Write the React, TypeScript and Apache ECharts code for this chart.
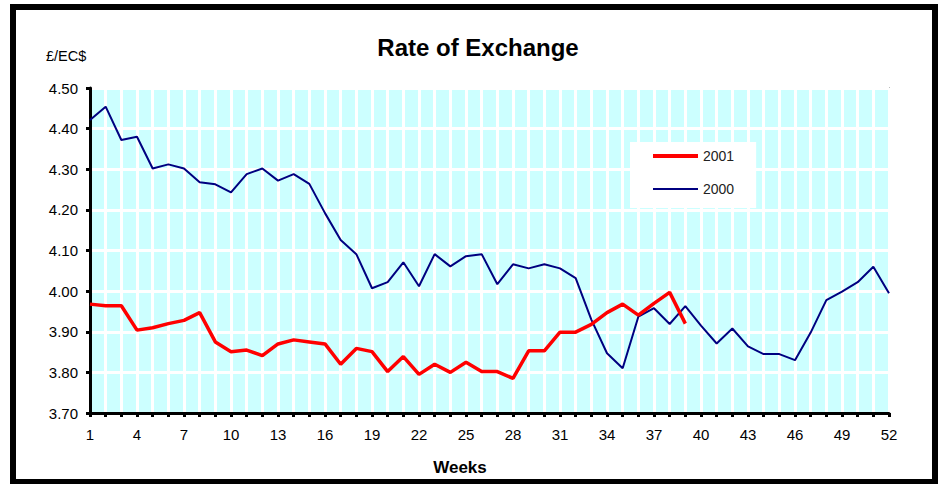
import React, { useEffect, useRef } from "react";
import * as echarts from "echarts";

const weeks: string[] = [
  "1", "2", "3", "4", "5", "6", "7", "8", "9", "10",
  "11", "12", "13", "14", "15", "16", "17", "18", "19", "20",
  "21", "22", "23", "24", "25", "26", "27", "28", "29", "30",
  "31", "32", "33", "34", "35", "36", "37", "38", "39", "40",
  "41", "42", "43", "44", "45", "46", "47", "48", "49", "50",
  "51", "52",
];

const rate2001: number[] = [
  3.968, 3.964, 3.964, 3.904, 3.910, 3.920, 3.928, 3.947, 3.875, 3.851,
  3.855, 3.841, 3.870, 3.880, 3.875, 3.870, 3.820, 3.859, 3.851, 3.802,
  3.839, 3.795, 3.820, 3.800, 3.825, 3.802, 3.802, 3.785, 3.853, 3.853,
  3.899, 3.899, 3.918, 3.947, 3.968, 3.941, 3.970, 3.997, 3.920,
];

const rate2000: number[] = [
  4.421, 4.454, 4.372, 4.380, 4.302, 4.312, 4.302, 4.268, 4.263, 4.243,
  4.288, 4.302, 4.272, 4.288, 4.264, 4.192, 4.126, 4.091, 4.007, 4.022,
  4.071, 4.012, 4.091, 4.061, 4.086, 4.091, 4.017, 4.066, 4.056, 4.066,
  4.056, 4.032, 3.930, 3.847, 3.810, 3.937, 3.958, 3.919, 3.963, 3.915,
  3.871, 3.908, 3.864, 3.845, 3.845, 3.830, 3.898, 3.978, 3.999, 4.022,
  4.060, 3.995,
];

const seriesNames: string[] = ["2001", "2000"];
const chartTitle = "Rate of Exchange";
const yUnit = "£/EC$";
const xName = "Weeks";

const FONT = "'Liberation Sans', Arial, Helvetica, sans-serif";

export default function App() {
  const ref = useRef<HTMLDivElement>(null);

  useEffect(() => {
    if (!ref.current) return;
    const chart = echarts.init(ref.current, undefined, { renderer: "svg" });
    chart.setOption({
      animation: false,
      backgroundColor: "#ffffff",
      textStyle: { fontFamily: FONT },
      title: {
        text: chartTitle,
        left: 478,
        top: 35,
        textAlign: "center",
        padding: 0,
        textStyle: { fontFamily: FONT, fontSize: 24, fontWeight: "bold", color: "#000" },
      },
      legend: {
        data: [
          { name: seriesNames[0], lineStyle: { width: 4, color: "#FF0000" } },
          { name: seriesNames[1], lineStyle: { width: 2, color: "#000080" } },
        ],
        orient: "vertical",
        left: 630,
        top: 142,
        backgroundColor: "#ffffff",
        padding: [7, 22, 12, 21],
        itemWidth: 45,
        itemHeight: 14,
        itemGap: 19,
        itemStyle: { opacity: 0 },
        textStyle: { fontFamily: FONT, fontSize: 14, color: "#222" },
      },
      grid: {
        left: 90,
        right: 52,
        top: 88,
        bottom: 71,
        show: true,
        backgroundColor: "#CCFFFF",
        borderColor: "#222",
        borderWidth: 1.2,
      },
      xAxis: {
        type: "category",
        data: weeks,
        boundaryGap: false,
        name: xName,
        nameLocation: "middle",
        nameGap: 46,
        nameTextStyle: {
          fontFamily: FONT,
          fontSize: 17,
          fontWeight: "bold",
          color: "#000",
          padding: [0, 59, 0, 0],
        },
        axisLine: { show: true, lineStyle: { color: "#000", width: 3 } },
        axisTick: { show: true, interval: 0, length: 4, lineStyle: { color: "#000", width: 3 } },
        axisLabel: { interval: 2, margin: 14, fontFamily: FONT, fontSize: 15, color: "#000" },
        splitLine: { show: true, interval: 0, lineStyle: { color: "#ffffff", width: 3 } },
      },
      yAxis: {
        type: "value",
        min: 3.7,
        max: 4.5,
        interval: 0.1,
        axisLine: { show: true, lineStyle: { color: "#000", width: 3 } },
        axisTick: { show: true, length: 4, lineStyle: { color: "#000", width: 3 } },
        axisLabel: {
          margin: 12,
          fontFamily: FONT,
          fontSize: 15,
          color: "#000",
          formatter: (v: number) => v.toFixed(2),
        },
        splitLine: { show: true, lineStyle: { color: "#ffffff", width: 3 } },
      },
      series: [
        {
          name: seriesNames[0],
          type: "line",
          data: rate2001,
          symbol: "none",
          lineStyle: { color: "#FF0000", width: 3.5 },
          itemStyle: { color: "#FF0000" },
          z: 3,
        },
        {
          name: seriesNames[1],
          type: "line",
          data: rate2000,
          symbol: "none",
          lineStyle: { color: "#000080", width: 2 },
          itemStyle: { color: "#000080" },
          z: 2,
        },
      ],
      graphic: [
        {
          type: "text",
          left: 46,
          top: 48,
          style: { text: yUnit, fontFamily: FONT, fontSize: 14.5, fill: "#000" },
        },
        {
          type: "rect",
          shape: { x: 13, y: 7, width: 922, height: 475 },
          style: { fill: "none", stroke: "#000", lineWidth: 6 },
          silent: true,
        },
      ],
    });
    return () => chart.dispose();
  }, []);

  return (
    <div
      ref={ref}
      style={{ position: "absolute", left: 0, top: 0, width: 941, height: 484 }}
    />
  );
}
